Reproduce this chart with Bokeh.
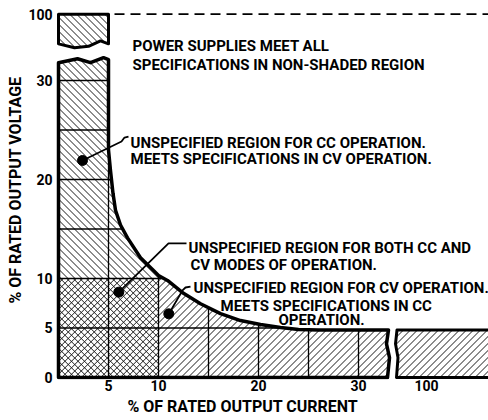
import numpy as np
from bokeh.plotting import figure
from bokeh.models import Range1d, FixedTicker, Title
from bokeh.core.properties import value
from bokeh.embed import file_html
from bokeh.resources import INLINE

# ---------------- data ----------------
# boundary of the specified region (% rated current, % rated voltage)
CURVE_I = [5.0, 5.2, 5.45, 5.7, 6.2, 6.9, 8.2, 9.5, 10.0, 10.9, 12.5, 14.2, 16.2, 18.2, 20.2, 22.2, 24.0, 26.0]
CURVE_V = [23.0, 20.9, 18.6, 16.9, 15.4, 14.1, 12.1, 10.8, 10.3, 9.8, 8.5, 7.45, 6.45, 5.75, 5.35, 5.05, 4.85, 4.8]
GRID_I = [5, 10, 15, 20, 25, 30]
GRID_V = [5, 10, 15, 20, 25, 30]
X_TICK_VALUES = [5, 10, 20, 30]
X_TICK_LABELS = ["5", "10", "20", "30", "100"]
Y_TICK_VALUES = [0, 5, 10, 20, 30]
Y_TICK_LABELS = ["0", "5", "10", "20", "30", "100"]
POS_100_I = 36.8      # where 100 % current is drawn beyond the axis break
POS_100_V = 36.7      # where 100 % voltage is drawn beyond the axis break
STRIP_I = 5           # CC-unspecified strip width
BOTH_LIMIT = 10       # square unspecified for both modes
FLAT_V = 4.8          # CV-unspecified floor

# axis break outlines
LOWER_WAVE_I = [0.0, 1.9, 3.2, 4.5, 5.0]
LOWER_WAVE_V = [31.8, 32.2, 31.8, 32.3, 32.1]
UPPER_WAVE_I = [0.0, 1.6, 3.0, 4.2, 5.0]
UPPER_WAVE_V = [33.7, 33.3, 33.45, 34.0, 33.7]
RIGHT_WAVE_V = [4.8, 3.4, 2.0, 0.0]
RIGHT_WAVE_LEFT_I = [33.0, 32.8, 33.1, 32.9]
RIGHT_WAVE_RIGHT_I = [33.85, 33.7, 33.95, 33.8]
FAR_I = 46.0

# annotations
NOTE_TEXT = [
    "POWER SUPPLIES MEET ALL",
    "SPECIFICATIONS IN NON-SHADED REGION",
    "UNSPECIFIED  REGION FOR CC OPERATION.",
    "MEETS SPECIFICATIONS IN CV OPERATION.",
    "UNSPECIFIED REGION FOR BOTH CC AND",
    "CV MODES OF OPERATION.",
    "UNSPECIFIED REGION FOR CV OPERATION.",
    "MEETS SPECIFICATIONS IN CC",
]
NOTE_I = [7.4, 7.4, 7.2, 7.2, 13.0, 13.2, 13.5, 16.2]
NOTE_V = [33.48, 31.52, 23.64, 22.02, 13.13, 11.41, 9.0, 7.27]
NOTE_C_TEXT = ["OPERATION."]
NOTE_C_I = [26.3]
NOTE_C_V = [5.76]

LEADER_I = [[2.4, 6.3, 6.6, 7.0], [6.03, 11.0, 12.8], [11.03, 12.4, 12.7, 13.2]]
LEADER_V = [[21.92, 23.84, 24.24, 24.34], [8.62, 13.54, 13.54], [6.43, 8.79, 9.09, 9.19]]
DOT_I = [2.4, 6.03, 11.03]
DOT_V = [21.92, 8.62, 6.43]

X_TITLE = "% OF RATED OUTPUT CURRENT"
Y_TITLE = "% OF RATED OUTPUT VOLTAGE"

FONT = "Roboto"

# ---------------- figure ----------------
W, H = 488, 420
BORDER_L, BORDER_B = 55, 41
X0, X1 = -0.3, 43.0
Y0, Y1 = -0.202, 38.08
p = figure(width=W, height=H, output_backend="svg", toolbar_location=None,
           x_range=Range1d(X0, X1), y_range=Range1d(Y0, Y1),
           min_border_left=BORDER_L, min_border_right=0, min_border_top=0, min_border_bottom=BORDER_B)
p.outline_line_color = None
p.grid.visible = False
p.background_fill_color = "white"

# screen pixels per data unit (for 45-degree hatching)
SX = (W - BORDER_L) / (X1 - X0)
SY = (H - BORDER_B) / (Y1 - Y0)


def hatch(poly_x, poly_y, direction, spacing):
    """Clip a family of 45-degree screen lines to a polygon. direction +1 -> '/', -1 -> '\\'."""
    X = np.asarray(poly_x, float) * SX
    Y = np.asarray(poly_y, float) * SY
    base = X - direction * Y
    n = len(X)
    x0s, y0s, x1s, y1s = [], [], [], []
    c = np.floor(base.min() / spacing) * spacing + spacing / 2
    while c < base.max():
        f = base - c
        pts = []
        for k in range(n):
            j = (k + 1) % n
            if (f[k] > 0) != (f[j] > 0):
                t = f[k] / (f[k] - f[j])
                pts.append((X[k] + t * (X[j] - X[k]), Y[k] + t * (Y[j] - Y[k])))
        pts.sort()
        for a, b in zip(pts[0::2], pts[1::2]):
            x0s.append(a[0] / SX); y0s.append(a[1] / SY)
            x1s.append(b[0] / SX); y1s.append(b[1] / SY)
        c += spacing
    return x0s, y0s, x1s, y1s


def draw_hatch(poly_x, poly_y, direction, spacing):
    x0s, y0s, x1s, y1s = hatch(poly_x, poly_y, direction, spacing)
    p.segment(x0=x0s, y0=y0s, x1=x1s, y1=y1s, line_color="#1a1a1a", line_width=1)


ci = np.array(CURVE_I)
cv = np.array(CURVE_V)

# CC-unspecified strip (left, above the square)
sel = ci <= BOTH_LIMIT
a_x = [0] + LOWER_WAVE_I + list(ci[sel]) + [BOTH_LIMIT, 0]
a_y = [BOTH_LIMIT] + LOWER_WAVE_V + list(cv[sel]) + [BOTH_LIMIT, BOTH_LIMIT]
draw_hatch(a_x, a_y, -1, 7)

# both-modes square
sq_x = [0, BOTH_LIMIT, BOTH_LIMIT, 0]
sq_y = [0, 0, BOTH_LIMIT, BOTH_LIMIT]
draw_hatch(sq_x, sq_y, 1, 6.5)
draw_hatch(sq_x, sq_y, -1, 6.5)

# CV-unspecified band (right of the square)
sel2 = ci >= BOTH_LIMIT
c_x = [BOTH_LIMIT] + list(ci[sel2]) + RIGHT_WAVE_LEFT_I + [BOTH_LIMIT]
c_y = [BOTH_LIMIT] + list(cv[sel2]) + RIGHT_WAVE_V + [0]
draw_hatch(c_x, c_y, 1, 7)

# top piece (100 % voltage)
d_x = [0, 0, STRIP_I] + UPPER_WAVE_I[::-1]
d_y = [UPPER_WAVE_V[0], POS_100_V, POS_100_V] + UPPER_WAVE_V[::-1]
draw_hatch(d_x, d_y, -1, 7)
p.patch(d_x, d_y, fill_color=None, line_color="black", line_width=3, line_join="round")

# right piece (100 % current)
e_x = RIGHT_WAVE_RIGHT_I + [FAR_I, FAR_I]
e_y = RIGHT_WAVE_V + [0, FLAT_V]
draw_hatch(e_x, e_y, 1, 7)
p.patch(e_x, e_y, fill_color=None, line_color="black", line_width=3, line_join="round")

# grid lines inside the shaded region
rv = cv[::-1]
ri = ci[::-1]
h_end = [STRIP_I if v >= cv[0] else float(np.interp(v, rv, ri)) for v in GRID_V]
h_end = [max(e, BOTH_LIMIT) if v == BOTH_LIMIT else e for v, e in zip(GRID_V, h_end)]
p.segment(x0=[0] * len(GRID_V), y0=GRID_V, x1=h_end, y1=GRID_V, line_color="black", line_width=1.3)
v_end = [float(np.interp(i, ci, cv)) for i in GRID_I]
p.segment(x0=GRID_I, y0=[0] * len(GRID_I), x1=GRID_I, y1=v_end, line_color="black", line_width=1.3)

# outline of the main shaded region
o_x = [0] + LOWER_WAVE_I + list(ci) + RIGHT_WAVE_LEFT_I + [0]
o_y = [0] + LOWER_WAVE_V + list(cv) + RIGHT_WAVE_V + [0]
p.patch(o_x, o_y, fill_color=None, line_color="black", line_width=3.5, line_join="round")

# dashed 100 % voltage line
p.line([STRIP_I + 0.6, FAR_I], [POS_100_V, POS_100_V], line_color="black", line_width=1.6, line_dash="10 6")

# leaders and dots
p.multi_line(LEADER_I, LEADER_V, line_color="black", line_width=1.8)
p.scatter(DOT_I, DOT_V, size=10, color="black")

# notes
p.text(NOTE_I, NOTE_V, text=NOTE_TEXT, text_font=value(FONT), text_font_style="bold",
       text_font_size="15px", text_baseline="middle", text_align="left", text_color="black")
p.text(NOTE_C_I, NOTE_C_V, text=NOTE_C_TEXT, text_font=value(FONT), text_font_style="bold",
       text_font_size="15px", text_baseline="middle", text_align="center", text_color="black")

# axes
for ax in (p.xaxis[0], p.yaxis[0]):
    ax.axis_line_color = None
    ax.major_tick_line_color = None
    ax.minor_tick_line_color = None
    ax.major_tick_out = 0
    ax.major_tick_in = 0
    ax.major_label_text_font = FONT
    ax.major_label_text_font_style = "bold"
    ax.major_label_text_font_size = "14px"
    ax.major_label_text_color = "black"
    ax.axis_label_text_font = FONT
    ax.axis_label_text_font_style = "bold"
    ax.axis_label_text_font_size = "16px"
    ax.axis_label_text_color = "black"

p.xaxis.ticker = FixedTicker(ticks=X_TICK_VALUES + [POS_100_I])
p.xaxis.major_label_overrides = {t: s for t, s in zip(X_TICK_VALUES + [POS_100_I], X_TICK_LABELS)}
p.xaxis.major_label_standoff = 0
p.yaxis.ticker = FixedTicker(ticks=Y_TICK_VALUES + [POS_100_V])
p.yaxis.major_label_overrides = {t: s for t, s in zip(Y_TICK_VALUES + [POS_100_V], Y_TICK_LABELS)}
p.yaxis.major_label_standoff = 3
p.yaxis.axis_label = Y_TITLE
p.yaxis.axis_label_standoff = 0

p.add_layout(Title(text=X_TITLE, align="left", offset=72, standoff=2, text_font=FONT,
                   text_font_style="bold", text_font_size="16px", text_color="black"), "below")

open("out.html", "w").write(file_html(p, INLINE))
